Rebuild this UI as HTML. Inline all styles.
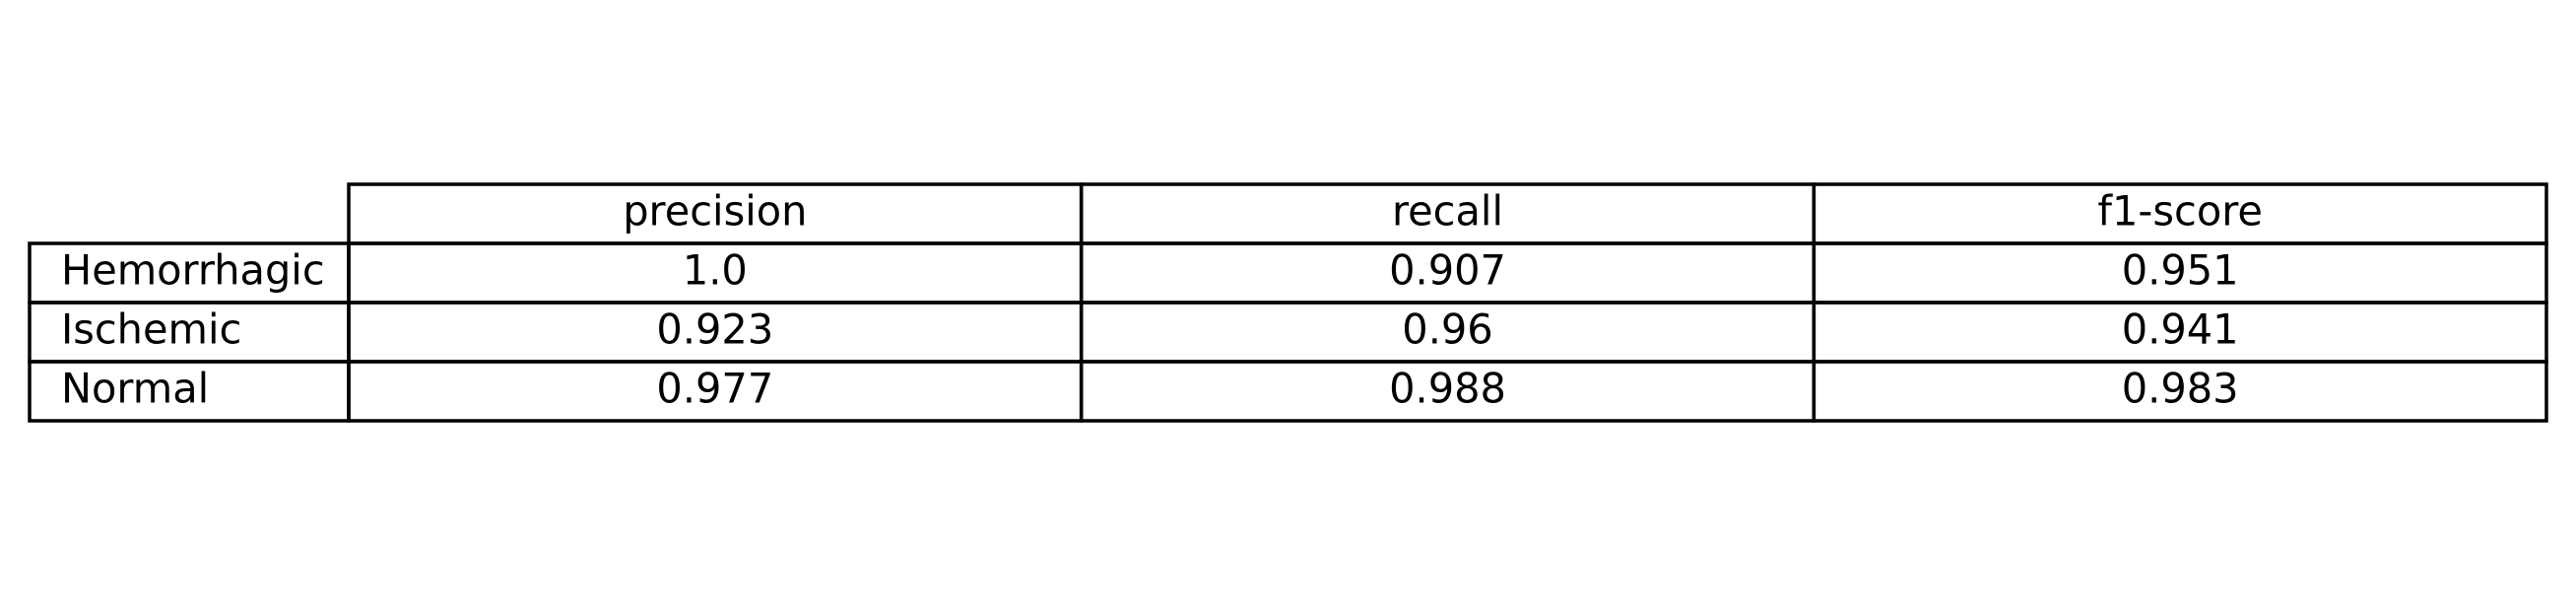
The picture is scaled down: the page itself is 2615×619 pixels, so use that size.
<!DOCTYPE html>
<html><head><meta charset="utf-8"><style>
html,body{margin:0;padding:0;background:#fff;}
svg text{font-family:"DejaVu Sans","Liberation Sans",sans-serif;font-size:41.5px;fill:#000;}
</style></head><body>
<svg id="chart" width="2615" height="614" xmlns="http://www.w3.org/2000/svg"></svg>
<script>
const columns = ["precision","recall","f1-score"];
const rowLabels = ["Hemorrhagic","Ischemic","Normal"];
const precisionVals = ["1.0","0.923","0.977"];
const recallVals = ["0.907","0.96","0.988"];
const f1Vals = ["0.951","0.941","0.983"];
const series = [precisionVals, recallVals, f1Vals];

const svg = document.getElementById('chart');
const NS = "http://www.w3.org/2000/svg";
const labelX0 = 30, colX0 = 354, colX1 = 2585, top0 = 187, rowH = 60;
const colW = (colX1 - colX0) / columns.length;
function cx(i){ return colX0 + i*colW; }
function ry(j){ return top0 + j*rowH; }

function rect(x,y,w,h,name){
  const r = document.createElementNS(NS,'rect');
  r.setAttribute('x',x);r.setAttribute('y',y);r.setAttribute('width',w);r.setAttribute('height',h);
  r.setAttribute('fill','none');r.setAttribute('stroke','#000');r.setAttribute('stroke-width','3.5');
  
  
  svg.appendChild(r);
}
function text(x,y,s,anchor,name){
  const t = document.createElementNS(NS,'text');
  t.setAttribute('x',x);t.setAttribute('y',y);t.setAttribute('text-anchor',anchor);
  t.setAttribute('dominant-baseline','central');
  t.textContent = s;
  
  
  svg.appendChild(t);
}
columns.forEach((c,i)=>{
  rect(cx(i), ry(0), colW, rowH, 'header-cell');
  text(cx(i)+colW/2, ry(0)+rowH/2-3, c, 'middle', 'column-header');
});
rowLabels.forEach((lab,j)=>{
  rect(labelX0, ry(j+1), colX0-labelX0, rowH, 'row-label-cell');
  text(labelX0+32, ry(j+1)+rowH/2-3, lab, 'start', 'row-label');
  series.forEach((vals,i)=>{
    rect(cx(i), ry(j+1), colW, rowH, 'data-cell');
    text(cx(i)+colW/2, ry(j+1)+rowH/2-3, vals[j], 'middle', 'cell-value');
  });
});
</script>
</body></html>
